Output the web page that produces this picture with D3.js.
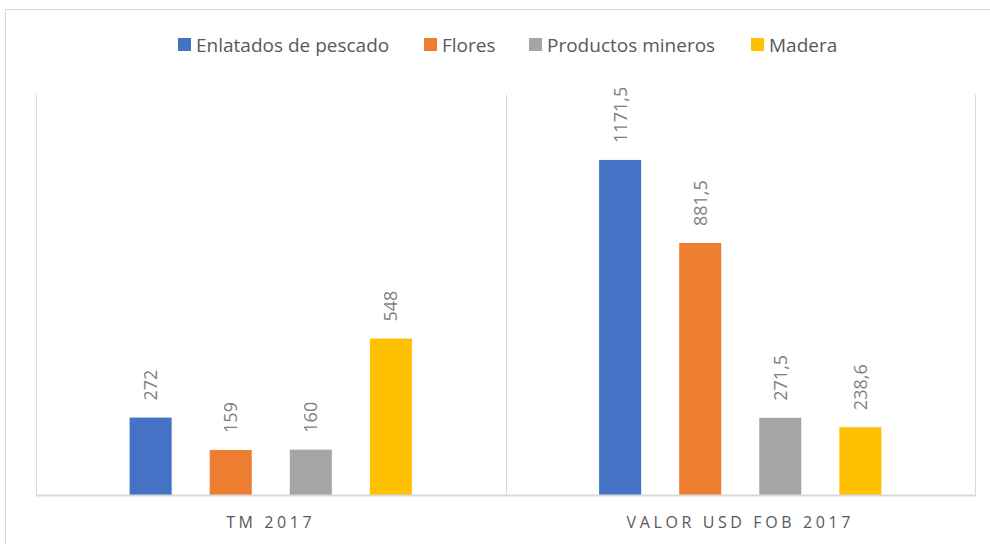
<!DOCTYPE html>
<html>
<head>
<meta charset="utf-8">
<script src="https://cdn.jsdelivr.net/npm/d3@7"></script>
<style>
  html, body { margin: 0; padding: 0; background: #fff; }
  svg { display: block; font-family: 'Open Sans', 'Noto Sans', sans-serif; }
</style>
</head>
<body>
<svg id="chart" width="990" height="544"></svg>
<script>
// categories on the x axis and the four product series
const categories = ['TM 2017', 'VALOR USD FOB 2017'];
const seriesNames = ['Enlatados de pescado', 'Flores', 'Productos mineros', 'Madera'];
const seriesColors = ['#4472c4', '#ed7d31', '#a5a5a5', '#ffc000'];
// values per series, in category order
const enlatados = [272, 1171.5];
const flores = [159, 881.5];
const mineros = [160, 271.5];
const madera = [548, 238.6];

const seriesValues = [enlatados, flores, mineros, madera];
const rows = categories.map((c, i) => ({
  cat: c,
  vals: seriesNames.map((s, j) => ({series: s, color: seriesColors[j], value: seriesValues[j][i]}))
}));

const svg = d3.select('#chart');
const fmt = v => String(v).replace('.', ',');

// chart frame
svg.append('rect').attr('x', 5.5).attr('y', 9.5).attr('width', 990).attr('height', 560)
  .attr('fill', 'none').attr('stroke', '#d9d9d9');

const plot = {left: 36, right: 975, top: 94.5, bottom: 495.5};

const x0 = d3.scaleBand().domain(categories).range([plot.left, plot.right]);
const x1 = d3.scaleBand().domain(seriesNames).range([0, x0.bandwidth()])
  .paddingInner(0.475).paddingOuter(1.169);
const y = d3.scaleLinear().domain([0, 1400]).range([plot.bottom, plot.top]);

// vertical separators between categories
const seps = [plot.left].concat(categories.map(c => x0(c) + x0.bandwidth()));
svg.append('g').selectAll('line').data(seps).enter().append('line')
  .attr('x1', d => Math.round(d) + 0.5).attr('x2', d => Math.round(d) + 0.5)
  .attr('y1', plot.top).attr('y2', plot.bottom)
  .attr('stroke', '#d9d9d9').attr('stroke-width', 1);

// bars
const groups = svg.append('g').selectAll('g').data(rows).enter().append('g')
  .attr('transform', d => `translate(${x0(d.cat)},0)`);

groups.selectAll('rect').data(d => d.vals).enter().append('rect')
  .attr('x', d => x1(d.series)).attr('width', x1.bandwidth())
  .attr('y', d => y(d.value)).attr('height', d => y(0) - y(d.value))
  .attr('fill', d => d.color);

// rotated value labels
groups.selectAll('text').data(d => d.vals).enter().append('text')
  .attr('transform', d => `translate(${x1(d.series) + x1.bandwidth() / 2 + 6.5},${y(d.value) - 17}) rotate(-90)`)
  .attr('fill', '#7f7f7f').style('font-size', '18px')
  .text(d => fmt(d.value));

// baseline
svg.append('line').attr('x1', plot.left).attr('x2', plot.right + 1)
  .attr('y1', plot.bottom).attr('y2', plot.bottom)
  .attr('stroke', '#d9d9d9').attr('stroke-width', 2);

// category labels
svg.append('g').selectAll('text').data(categories).enter().append('text')
  .attr('x', d => x0(d) + x0.bandwidth() / 2).attr('y', 528)
  .attr('text-anchor', 'middle').attr('fill', '#595959')
  .style('font-size', '16px').style('letter-spacing', '3.6px')
  .text(d => d);

// legend
const legendX = [178, 424, 529, 751];
const legend = svg.append('g').selectAll('g').data(seriesNames).enter().append('g')
  .attr('transform', (d, i) => `translate(${legendX[i]},38)`);
legend.append('rect').attr('width', 13).attr('height', 13).attr('fill', (d, i) => seriesColors[i]);
legend.append('text').attr('x', 18).attr('y', 13.5).attr('fill', '#595959')
  .style('font-size', '19px').text(d => d);
</script>
</body>
</html>
